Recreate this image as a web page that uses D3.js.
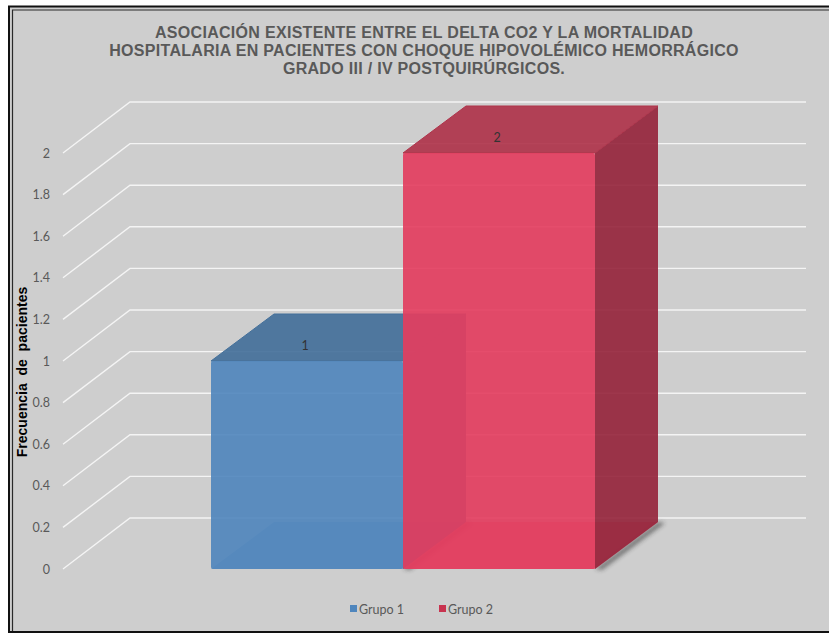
<!DOCTYPE html>
<html>
<head>
<meta charset="utf-8">
<script src="https://cdn.jsdelivr.net/npm/d3@7"></script>
<style>
  html, body { margin: 0; padding: 0; background: #ffffff; }
  svg { display: block; }
</style>
</head>
<body>
<svg id="chart" width="829" height="633"></svg>
<script>
// ---- data ----
const titleLines = [
  "ASOCIACIÓN EXISTENTE ENTRE EL DELTA CO2 Y LA MORTALIDAD",
  "HOSPITALARIA EN PACIENTES CON CHOQUE HIPOVOLÉMICO HEMORRÁGICO",
  "GRADO III / IV POSTQUIRÚRGICOS."
];
const categories = ["Grupo 1", "Grupo 2"];
const values = [1, 2];
const valueLabels = ["1", "2"];
const yTicks = [0, 0.2, 0.4, 0.6, 0.8, 1, 1.2, 1.4, 1.6, 1.8, 2];
const yTickLabels = ["0", "0.2", "0.4", "0.6", "0.8", "1", "1.2", "1.4", "1.6", "1.8", "2"];
const yAxisTitle = "Frecuencia  de  pacientes";

// ---- styles ----
const faceColors = [
  { front: "#5187bd", top: "#44709a", side: "#3f6790", bottom: "#4a7db0" },
  { front: "#e33e5f", top: "#af344b", side: "#96263d", bottom: "#d9304f" }
];
const legendColors = ["#4f86bd", "#c8334f"];
const bg = "#cecece";

const svg = d3.select("#chart");
const defs = svg.append("defs");
defs.append("filter").attr("id", "blur").attr("x", "-50%").attr("y", "-50%").attr("width", "200%").attr("height", "200%")
  .append("feGaussianBlur").attr("stdDeviation", 2.2);

// chart area background
svg.append("rect").attr("x", 8).attr("y", 6).attr("width", 821).attr("height", 627).attr("fill", bg);
// frame (double line)
svg.append("path").attr("d", "M9,633 L9,6.5 L829,6.5").attr("fill", "none").attr("stroke", "#111").attr("stroke-width", 2);
svg.append("path").attr("d", "M12.5,633 L12.5,10 L829,10").attr("fill", "none").attr("stroke", "#2a2a2a").attr("stroke-width", 1.2);
svg.append("path").attr("d", "M8,632 L829,632").attr("fill", "none").attr("stroke", "#111").attr("stroke-width", 2);

// title
const title = svg.append("text")
  .attr("text-anchor", "middle")
  .attr("font-family", "'Liberation Sans', Arial, sans-serif")
  .attr("font-weight", "bold")
  .attr("font-size", 16)
  .attr("letter-spacing", 0.3)
  .attr("fill", "#595959");
titleLines.forEach((t, i) => {
  title.append("tspan").attr("x", 424).attr("y", 38 + i * 18).text(t);
});

// scales
const y = d3.scaleLinear().domain([0, 2]).range([569, 153]);
const x = d3.scaleBand().domain(categories).range([211, 595]).padding(0);
const axisX = 63;
const wall = { dx: 67, dy: -51 };
const depth = { dx: 63, dy: -47 };
const wallRight = 806;

// gridlines (floor/side diagonal + back wall)
svg.append("g").selectAll("path").data(yTicks).join("path")
  .attr("d", d => `M${axisX},${y(d)} L${axisX + wall.dx},${y(d) + wall.dy} L${wallRight},${y(d) + wall.dy}`)
  .attr("fill", "none")
  .attr("stroke", "#f4f4f4")
  .attr("stroke-width", 1.4);

// y axis
const yAxis = d3.axisLeft(y)
  .tickValues(yTicks)
  .tickSize(0)
  .tickPadding(13)
  .tickFormat((d, i) => yTickLabels[i]);
const gy = svg.append("g").attr("transform", `translate(${axisX},0)`).call(yAxis);
gy.select(".domain").remove();
gy.selectAll("text")
  .attr("font-family", "Lato, 'Open Sans', sans-serif")
  .attr("font-size", 12.5)
  .attr("fill", "#595959");

// y axis title
svg.append("text")
  .attr("transform", "translate(27,372) rotate(-90)")
  .attr("text-anchor", "middle")
  .attr("font-family", "'Liberation Sans', Arial, sans-serif")
  .attr("font-weight", "bold")
  .attr("font-size", 14)
  .attr("fill", "#000")
  .style("white-space", "pre")
  .attr("xml:space", "preserve")
  .text(yAxisTitle);

// bars
const bars = categories.map((c, i) => ({ c, v: values[i], lab: valueLabels[i], col: faceColors[i] }));
const gBars = svg.append("g");
bars.forEach((b, i) => {
  const x0 = x(b.c), x1 = x(b.c) + x.bandwidth();
  const yt = y(b.v), yb = y(0);
  const g = gBars.append("g");
  // shadow on floor
  g.append("polygon")
    .attr("points", [[x1, yb], [x1 + depth.dx, yb + depth.dy], [x1 + depth.dx + 7, yb + depth.dy + 1], [x1 + 7, yb + 1]].map(p => p.join(",")).join(" "))
    .attr("fill", "#2a2a2a").attr("opacity", 0.55).attr("filter", "url(#blur)");
  const op = 0.92;
  // bottom face (seen through)
  g.append("polygon")
    .attr("points", [[x0, yb], [x0 + depth.dx, yb + depth.dy], [x1 + depth.dx, yb + depth.dy], [x1, yb]].map(p => p.join(",")).join(" "))
    .attr("fill", b.col.bottom).attr("fill-opacity", 0.5);
  // side
  g.append("polygon")
    .attr("points", [[x1, yt], [x1 + depth.dx, yt + depth.dy], [x1 + depth.dx, yb + depth.dy], [x1, yb]].map(p => p.join(",")).join(" "))
    .attr("fill", b.col.side).attr("fill-opacity", op);
  // top
  g.append("polygon")
    .attr("points", [[x0, yt], [x0 + depth.dx, yt + depth.dy], [x1 + depth.dx, yt + depth.dy], [x1, yt]].map(p => p.join(",")).join(" "))
    .attr("fill", b.col.top).attr("fill-opacity", op)
    .attr("stroke", b.col.top).attr("stroke-width", 1).attr("stroke-linejoin", "round");
  // front
  g.append("rect")
    .attr("x", x0).attr("y", yt).attr("width", x1 - x0).attr("height", yb - yt)
    .attr("rx", 2)
    .attr("fill", b.col.front).attr("fill-opacity", op);
  // value label
  g.append("text")
    .attr("x", (x0 + x1) / 2 - 2)
    .attr("y", yt - 11)
    .attr("text-anchor", "middle")
    .attr("font-family", "Lato, 'Open Sans', sans-serif")
    .attr("font-size", 12.5)
    .attr("fill", "#333")
    .text(b.lab);
});

// legend
const legend = svg.append("g");
const legendX = [350, 439];
categories.forEach((c, i) => {
  legend.append("rect").attr("x", legendX[i]).attr("y", 605).attr("width", 7).attr("height", 7)
    .attr("fill", legendColors[i]);
  legend.append("text")
    .attr("x", legendX[i] + 9).attr("y", 613.5)
    .attr("font-family", "Lato, 'Open Sans', sans-serif")
    .attr("font-size", 12.5)
    .attr("fill", "#595959")
    .text(c);
});
</script>
</body>
</html>
